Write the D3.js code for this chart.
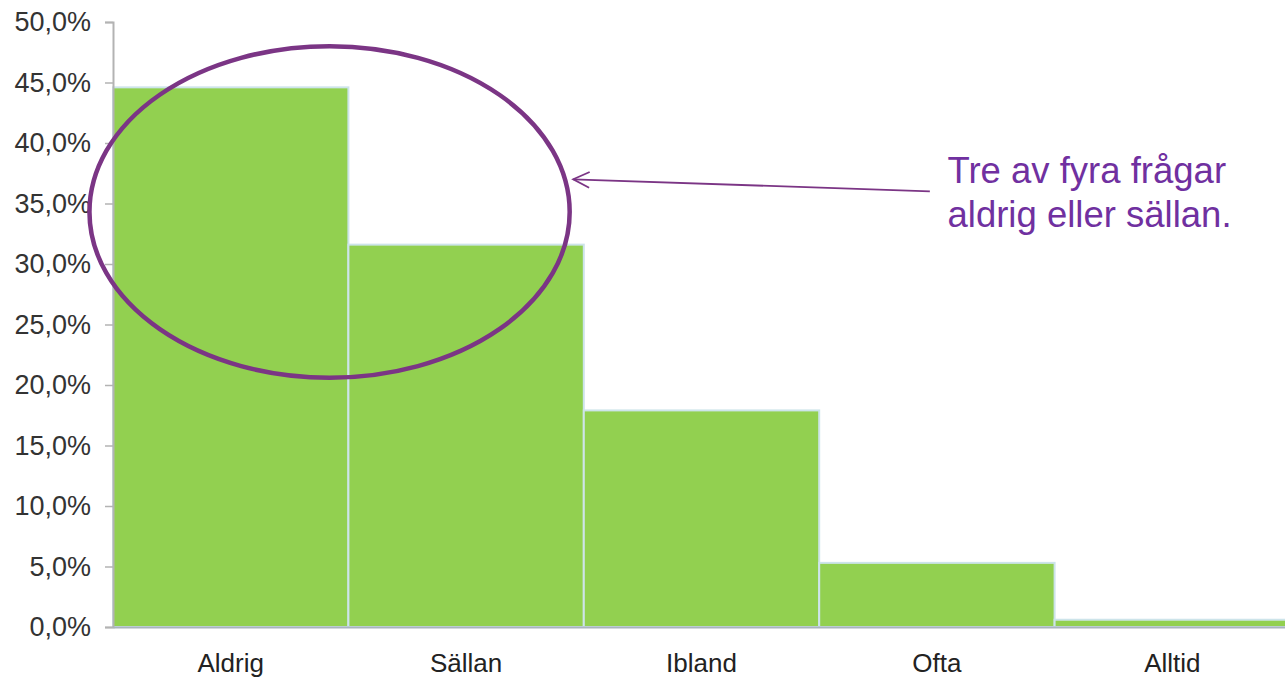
<!DOCTYPE html>
<html><head><meta charset="utf-8">
<script src="https://cdn.jsdelivr.net/npm/d3@7"></script>
<style>body{margin:0;background:#fff;overflow:hidden}</style>
</head><body>
<svg id="c" width="1285" height="681"></svg>
<script>
const categories = ["Aldrig","Sällan","Ibland","Ofta","Alltid"];
const values = [44.6, 31.6, 17.9, 5.3, 0.6];
const yTicks = [0,5,10,15,20,25,30,35,40,45,50];
const noteLines = ["Tre av fyra frågar","aldrig eller sällan."];

const svg = d3.select("#c");
const x = d3.scaleBand().domain(categories).range([113, 1290]).padding(0);
const y = d3.scaleLinear().domain([0,50]).range([627, 22]);

// bars
svg.append("g").selectAll("rect").data(values).join("rect")
  .attr("x", (d,i)=>x(categories[i]))
  .attr("y", d=>y(d))
  .attr("width", x.bandwidth())
  .attr("height", d=>y(0)-y(d))
  .attr("fill","#92d050")
  .attr("stroke","#cde4ea")
  .attr("stroke-width",2);

// y axis
const ya = svg.append("g").attr("transform","translate(113,0)")
  .call(d3.axisLeft(y).tickValues(yTicks).tickSize(8).tickPadding(14)
    .tickFormat(d=>d3.format(".1f")(d).replace(".",",")+"%"));
ya.select(".domain").attr("stroke","#b3b3b3").attr("stroke-width",2);
ya.selectAll(".tick line").attr("stroke","#b3b3b3").attr("stroke-width",1.5);
ya.selectAll("text").attr("font-family","Liberation Sans, Arial, sans-serif")
  .attr("font-size",27).attr("fill","#333");

// x axis
const xa = svg.append("g").attr("transform","translate(0,627)")
  .call(d3.axisBottom(x).tickSize(0).tickPadding(27));
xa.select(".domain").attr("stroke","#a9b4bd").attr("stroke-width",2);
xa.selectAll("text").attr("font-family","Liberation Sans, Arial, sans-serif")
  .attr("font-size",26).attr("fill","#222");

// annotation
const purple = "#7b3585";
const bw = x.bandwidth();
svg.append("ellipse")
  .attr("cx", x("Aldrig") + bw*0.92)
  .attr("cy", y(34.3))
  .attr("rx", bw*1.02)
  .attr("ry", y(0)-y(13.7))
  .attr("fill","none").attr("stroke",purple).attr("stroke-width",4.5);

const ax1 = x("Ofta")+bw*0.47, ay1 = y(36.0);
const ax2 = x("Sällan")+bw*0.955, ay2 = y(37.0);
svg.append("line").attr("x1",ax1).attr("y1",ay1).attr("x2",ax2).attr("y2",ay2)
  .attr("stroke",purple).attr("stroke-width",1.8);
const ang = Math.atan2(ay1-ay2, ax1-ax2);
const hl = 18, ha = 0.45;
svg.append("path")
  .attr("d", `M${ax2+hl*Math.cos(ang-ha)},${ay2+hl*Math.sin(ang-ha)} L${ax2},${ay2} L${ax2+hl*Math.cos(ang+ha)},${ay2+hl*Math.sin(ang+ha)}`)
  .attr("fill","none").attr("stroke",purple).attr("stroke-width",1.8);

svg.append("g").selectAll("text").data(noteLines).join("text")
  .attr("x", x("Ofta")+bw*0.545)
  .attr("y", (d,i)=>183+i*44)
  .attr("font-family","Liberation Sans, Arial, sans-serif")
  .attr("font-size",36.5).attr("fill","#7030a0")
  .text(d=>d);
</script>
</body></html>
